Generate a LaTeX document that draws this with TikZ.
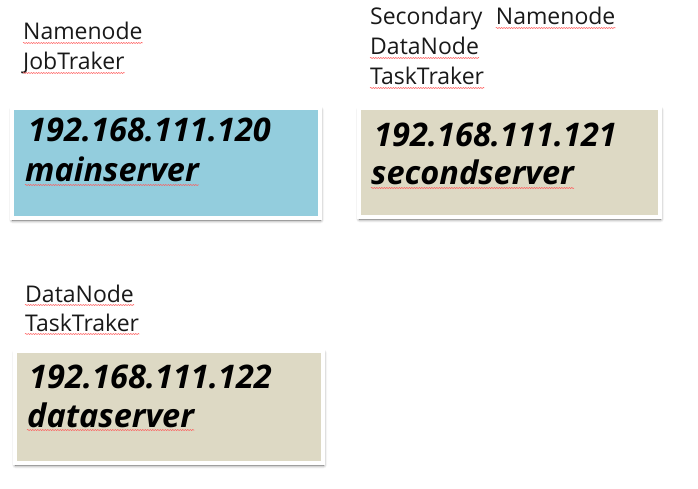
\documentclass[tikz,border=0pt]{standalone}
\usepackage{fontspec}
\setmainfont{Open Sans}
\usetikzlibrary{positioning,shadows.blur,decorations.pathmorphing}

\definecolor{mainblue}{HTML}{93CDDD}
\definecolor{tanfill}{HTML}{DDD9C4}

\tikzset{
  server/.style={draw=white, line width=4pt, fill=#1, inner sep=0pt,
    blur shadow={shadow xshift=0.5pt, shadow yshift=-2pt, shadow blur radius=3.5pt,
      shadow blur steps=6, shadow opacity=65}},
  role/.style={anchor=base west, inner sep=0pt, text=black!90,
    font=\fontsize{23}{27}\selectfont},
  addr/.style={anchor=base west, inner sep=0pt,
    font=\fontsize{32.5}{38}\selectfont\bfseries\itshape},
  typo/.style={draw=red!65, line width=0.5pt, decorate,
    decoration={snake, amplitude=0.6pt, segment length=2.5pt}}
}

\begin{document}
\begin{tikzpicture}[x=1pt, y=-1pt]
  \useasboundingbox (0,0) rectangle (698,489);

  % servers
  \node (main) [server=mainblue, minimum width=308pt, minimum height=110pt] at (166,163) {};
  \node (second) [server=tanfill, minimum width=301pt, minimum height=109pt] at (509.5,162.5) {};
  \node (data) [server=tanfill, minimum width=308pt, minimum height=112pt] at (169,407) {};

  % roles
  \node (mrole1) [role] at (23,40) {Namenode};
  \node (mrole2) [role] at (23,70) {JobTraker};
  \node (srole1) [role] at (370,25) {Secondary};
  \node (srole2) [role, right=13pt of srole1.base east, anchor=base west] {Namenode};
  \node (srole3) [role] at (370,55) {DataNode};
  \node (srole4) [role] at (370,85) {TaskTraker};
  \node (drole1) [role] at (25,302) {DataNode};
  \node (drole2) [role] at (25,331) {TaskTraker};

  % addresses
  \node (mip) [addr] at (28,142) {192.168.111.120};
  \node (mname) [addr] at (25,182) {mainserver};
  \node (sip) [addr] at (374,147) {192.168.111.121};
  \node (sname) [addr] at (371,185) {secondserver};
  \node (dip) [addr] at (29,388) {192.168.111.122};
  \node (dname) [addr] at (27,427) {dataserver};

  % spell check marks
  \foreach \w in {mrole1, mrole2, srole2, srole3, srole4, drole1, drole2, mname, sname, dname}
    \draw[typo] ([yshift=-3pt]\w.base west) -- ([yshift=-3pt]\w.base east);
\end{tikzpicture}
\end{document}
